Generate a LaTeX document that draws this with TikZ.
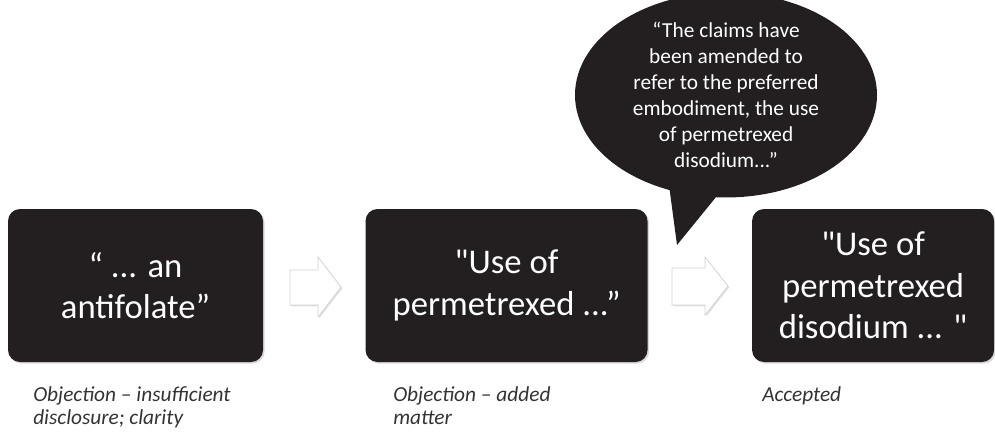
\documentclass[tikz,border=0pt]{standalone}
\usepackage{fontspec}
\setmainfont{Carlito}[Ligatures=TeXOff]
\usetikzlibrary{positioning,shapes.geometric,shadows}
\definecolor{boxblack}{HTML}{231F20}
\definecolor{captiongray}{HTML}{333333}
\begin{document}
\begin{tikzpicture}[x=0.75pt,y=-0.75pt,
	stepbox/.style={fill=boxblack,rounded corners=9pt,text=white,align=center,
		minimum height=114.75pt,inner sep=0pt,font=\fontsize{26}{31}\selectfont,
		drop shadow={shadow xshift=1.2pt,shadow yshift=-1.2pt,opacity=0.3}},
	bubble/.style={ellipse,fill=boxblack,text=white,align=center,inner sep=0pt,
		minimum width=226.5pt,minimum height=129pt,font=\fontsize{16}{19.4}\selectfont},
	flowarrow/.style={fill=white,draw=black!18,line width=0.5pt,
		drop shadow={shadow xshift=1pt,shadow yshift=-1pt,opacity=0.25}},
	caption/.style={anchor=north west,align=left,inner sep=0pt,text=captiongray,
		font=\fontsize{16}{17.5}\selectfont\itshape}]
	\useasboundingbox (0,0) rectangle (995,437);
	% the three stages
	\node[stepbox,minimum width=191.25pt] (antifolate) at (135.5,285.5) {“ ... an\\antifolate”};
	\node[stepbox,minimum width=211.5pt,right=76.5pt of antifolate] (permetrexed) {"Use of\\permetrexed ...”};
	\node[stepbox,minimum width=181.5pt,right=78pt of permetrexed] (disodium) {"Use of\\permetrexed\\disodium ... "};
	% arrows between the stages
	\draw[flowarrow] (290,270) -- (318,270) -- (318,257) -- (341,287) -- (318,317) -- (318,305) -- (290,305) -- cycle;
	\draw[flowarrow] (672,268) -- (705,268) -- (705,257) -- (728,286) -- (705,315) -- (705,305) -- (672,305) -- cycle;
	% speech bubble
	\coordinate (tip) at (677,245);
	\fill[boxblack] (667,170) -- (tip) -- (738,170) -- cycle;
	\node[bubble] (amended) at (726,95) {“The claims have\\been amended to\\refer to the preferred\\embodiment, the use\\of permetrexed\\disodium...”};
	% captions
	\node[caption] (obj1) at (33,386) {Objec\kern0pt tion – insufficient\\disclosure; clarity};
	\node[caption] (obj2) at (393,386) {Objec\kern0pt tion – added\\matter};
	\node[caption] (acc) at (762,386) {Accepted};
\end{tikzpicture}
\end{document}
